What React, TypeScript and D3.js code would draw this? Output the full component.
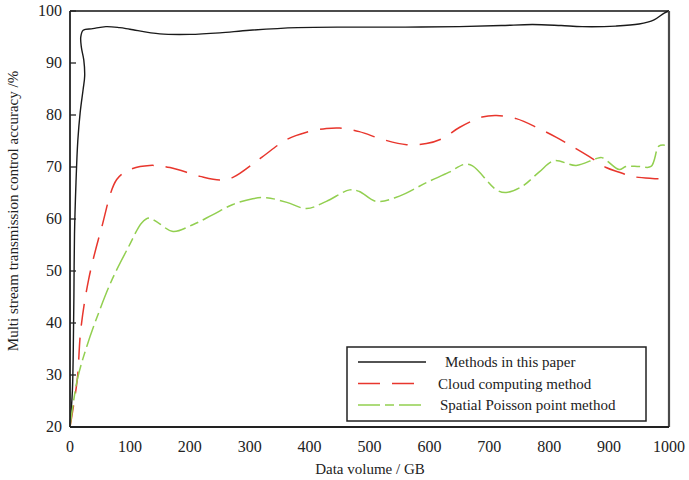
import React, { useRef, useEffect } from 'react'
import * as d3 from 'd3'

const W = 689
const H = 480

const xTicks = [0, 100, 200, 300, 400, 500, 600, 700, 800, 900, 1000]
const yTicks = [20, 30, 40, 50, 60, 70, 80, 90, 100]

// Methods in this paper (curve doubles back near x=0, so kept as ordered points)
const paperX = [0, 4, 5.5, 6.5, 7.5, 10, 13, 17, 22, 24.5, 23, 19, 18, 22, 38, 60, 83, 100, 150, 200, 250, 300, 380, 467, 560, 650, 720, 772, 820, 855, 911, 950, 975, 992, 1000]
const paperY = [20, 27, 35, 45, 57, 67, 75, 80.5, 85, 87.5, 90.6, 93, 95, 96.3, 96.6, 97, 96.8, 96.5, 95.6, 95.5, 95.8, 96.3, 96.8, 96.9, 96.9, 97.0, 97.2, 97.4, 97.2, 97.0, 97.1, 97.5, 98.3, 99.6, 100]

const cloudX = [0, 12, 18, 31, 52, 78, 100, 133, 167, 217, 250, 272, 317, 362, 395, 428, 450, 483, 522, 562, 595, 622, 650, 688, 712, 745, 783, 812, 838, 867, 895, 917, 938, 972, 1000]
const cloudY = [20, 29, 38.7, 48.3, 58, 67.6, 69.5, 70.3, 69.9, 68.2, 67.5, 68, 71.6, 75.3, 76.7, 77.4, 77.5, 76.8, 75.3, 74.3, 74.5, 75.5, 77.6, 79.6, 79.9, 79.3, 77.4, 75.7, 74, 72, 69.9, 69, 68.2, 67.8, 67.7]

const poissonX = [0, 12, 28, 48, 70, 98, 120, 132, 148, 172, 205, 238, 272, 305, 328, 362, 395, 428, 467, 483, 511, 550, 595, 633, 658, 672, 712, 728, 755, 783, 808, 845, 878, 888, 917, 928, 950, 970, 983, 993]
const poissonY = [20, 29, 35.5, 42, 48.3, 54.7, 59.3, 60.2, 59.2, 57.6, 58.9, 60.8, 62.8, 63.9, 64.1, 63.2, 62, 63.4, 65.6, 65.3, 63.4, 64.4, 67, 69, 70.5, 70.2, 65.6, 65.1, 66.3, 69, 71.2, 70.3, 71.6, 71.8, 69.5, 70.1, 70.1, 70.1, 74, 74.2]

const series = [
  { name: 'Methods in this paper', xs: paperX, ys: paperY, color: '#1a1a1a', dash: null, width: 1.4, textX: 445 },
  { name: 'Cloud computing method', xs: cloudX, ys: cloudY, color: '#e8362d', dash: '22,12', width: 1.5, textX: 438 },
  { name: 'Spatial Poisson point method', xs: poissonX, ys: poissonY, color: '#92cf50', dash: '22,5,9,5', width: 1.5, textX: 440 },
]

const FONT = 'Liberation Serif, DejaVu Serif, Times New Roman, serif'

export default function App() {
  const svgRef = useRef<SVGSVGElement>(null)

  useEffect(() => {
    if (!svgRef.current) return
    const svg = d3.select(svgRef.current)
    svg.selectAll('*').remove()

    const margin = { top: 11, right: 20, bottom: 53, left: 70 }
    const x = d3.scaleLinear().domain([0, 1000]).range([margin.left, W - margin.right])
    const y = d3.scaleLinear().domain([20, 100]).range([H - margin.bottom, margin.top])

    // curves
    const line = d3
      .line<[number, number]>()
      .x((d) => x(d[0]))
      .y((d) => y(d[1]))
      .curve(d3.curveCatmullRom.alpha(0.5))

    series.forEach((s) => {
      const pts = s.xs.map((v, i) => [v, s.ys[i]] as [number, number])
      svg
        .append('path')
        .datum(pts)
        .attr('d', line)
        .attr('fill', 'none')
        .attr('stroke', s.color)
        .attr('stroke-width', s.width)
        .attr('stroke-dasharray', s.dash)
    })

    // frame
    svg.append('line').attr('x1', x(0)).attr('x2', x(1000)).attr('y1', y(100)).attr('y2', y(100))
      .attr('stroke', '#111').attr('stroke-width', 1.5)
    svg.append('line').attr('x1', x(1000)).attr('x2', x(1000)).attr('y1', y(100)).attr('y2', y(20))
      .attr('stroke', '#4a4a4a').attr('stroke-width', 2.2)
    svg.append('line').attr('x1', x(0)).attr('x2', x(1000)).attr('y1', y(20)).attr('y2', y(20))
      .attr('stroke', '#222').attr('stroke-width', 1.8)
    svg.append('line').attr('x1', x(0)).attr('x2', x(0)).attr('y1', y(100)).attr('y2', y(20))
      .attr('stroke', '#222').attr('stroke-width', 1.8)

    // y ticks (inward) and labels
    const yAxis = svg.append('g')
    yTicks.forEach((t) => {
      yAxis.append('line').attr('x1', x(0)).attr('x2', x(0) + 6).attr('y1', y(t)).attr('y2', y(t))
        .attr('stroke', '#222').attr('stroke-width', 1.3)
      yAxis.append('text').attr('x', x(0) - 8).attr('y', y(t) + 5)
        .attr('text-anchor', 'end').style('font-family', FONT).style('font-size', '16px').attr('fill', '#222')
        .text(t)
    })

    // x labels
    xTicks.forEach((t) => {
      svg.append('text').attr('x', x(t)).attr('y', y(20) + 25)
        .attr('text-anchor', 'middle').style('font-family', FONT).style('font-size', '16px').attr('fill', '#222')
        .text(t)
    })

    svg.append('text').attr('x', 370).attr('y', 474)
      .attr('text-anchor', 'middle').style('font-family', FONT).style('font-size', '15px').attr('fill', '#222')
      .text('Data volume / GB')

    svg.append('text').attr('transform', `translate(18,${211}) rotate(-90)`)
      .attr('text-anchor', 'middle').style('font-family', FONT).style('font-size', '15px').attr('fill', '#222')
      .text('Multi stream transmission control accuracy /%')

    // legend
    const lg = svg.append('g')
    lg.append('rect').attr('x', 347).attr('y', 347).attr('width', 299).attr('height', 74)
      .attr('fill', 'white').attr('stroke', '#222').attr('stroke-width', 1.5)
    series.forEach((s, i) => {
      const ly = 362 + i * 21.5
      lg.append('line').attr('x1', 358).attr('x2', 426).attr('y1', ly).attr('y2', ly)
        .attr('stroke', s.color).attr('stroke-width', s.width).attr('stroke-dasharray', s.dash)
      lg.append('text').attr('x', s.textX).attr('y', ly + 5)
        .style('font-family', FONT).style('font-size', '15px').attr('fill', '#222')
        .text(s.name)
    })
  }, [])

  return (
    <div style={{ position: 'absolute', left: 0, top: 0, width: W, height: H, background: 'white' }}>
      <svg ref={svgRef} width={W} height={H} style={{ display: 'block' }} />
    </div>
  )
}
